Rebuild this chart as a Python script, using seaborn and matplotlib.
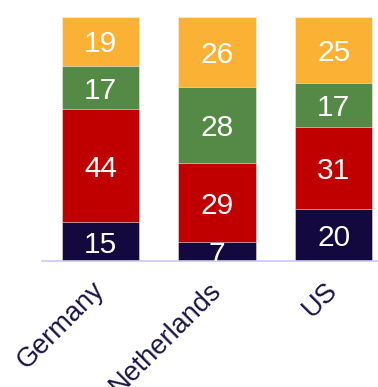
import numpy as np
import pandas as pd
import matplotlib
matplotlib.use("Agg")
import matplotlib.pyplot as plt
import seaborn as sns
from matplotlib.transforms import ScaledTranslation

# Survey responses per country (percent, as reported)
countries = ["Germany", "Netherlands", "US"]
navy_vals = [15, 7, 20]
red_vals = [44, 29, 31]
green_vals = [17, 28, 17]
orange_vals = [19, 26, 25]

layer_values = [navy_vals, red_vals, green_vals, orange_vals]
layer_colors = ["#13093f", "#c00000", "#548a46", "#fbb134"]

sns.set_theme(style="white")
plt.rcParams["font.family"] = ["Liberation Sans", "DejaVu Sans"]

fig = plt.figure(figsize=(3.78, 3.87), dpi=100)
ax = fig.add_axes([42 / 378, 126 / 387, 336 / 378, 244 / 387])

# Normalise each country's responses to a full-height stacked bar
vals = np.array(layer_values, dtype=float)
totals = vals.sum(axis=0)
shares = vals / totals * 100
tops = np.cumsum(shares, axis=0)
bottoms = tops - shares

# Draw from the top layer down so each lower layer overlays the one above
for i in reversed(range(len(layer_values))):
    df = pd.DataFrame({"country": countries, "top": tops[i]})
    sns.barplot(data=df, x="country", y="top", color=layer_colors[i],
                saturation=1, width=0.665, edgecolor="#f4f4f4",
                linewidth=0.4, ax=ax)

# Value labels centred in each segment
for i, row in enumerate(layer_values):
    for j, v in enumerate(row):
        mid = (bottoms[i, j] + tops[i, j]) / 2
        ax.text(j, mid, str(v), ha="center", va="center_baseline",
                color="white", fontsize=21.5, clip_on=True)

ax.set_xlim(-0.502, 2.38)
ax.set_ylim(0, 100)
ax.set_xlabel("")
ax.set_ylabel("")
ax.set_yticks([])
for side in ["top", "right", "left"]:
    ax.spines[side].set_visible(False)
ax.spines["bottom"].set_color("#cbc8f7")
ax.spines["bottom"].set_linewidth(1.2)

ax.set_xticks(range(len(countries)))
ax.set_xticklabels(countries, rotation=45, ha="right", fontsize=19.5,
                   color="#1a1446")
ax.tick_params(axis="x", length=0, pad=11.5)
shift = ScaledTranslation(9 / 100, 0, fig.dpi_scale_trans)
for lbl in ax.get_xticklabels():
    lbl.set_transform(lbl.get_transform() + shift)

fig.savefig("out.png", dpi=100)
